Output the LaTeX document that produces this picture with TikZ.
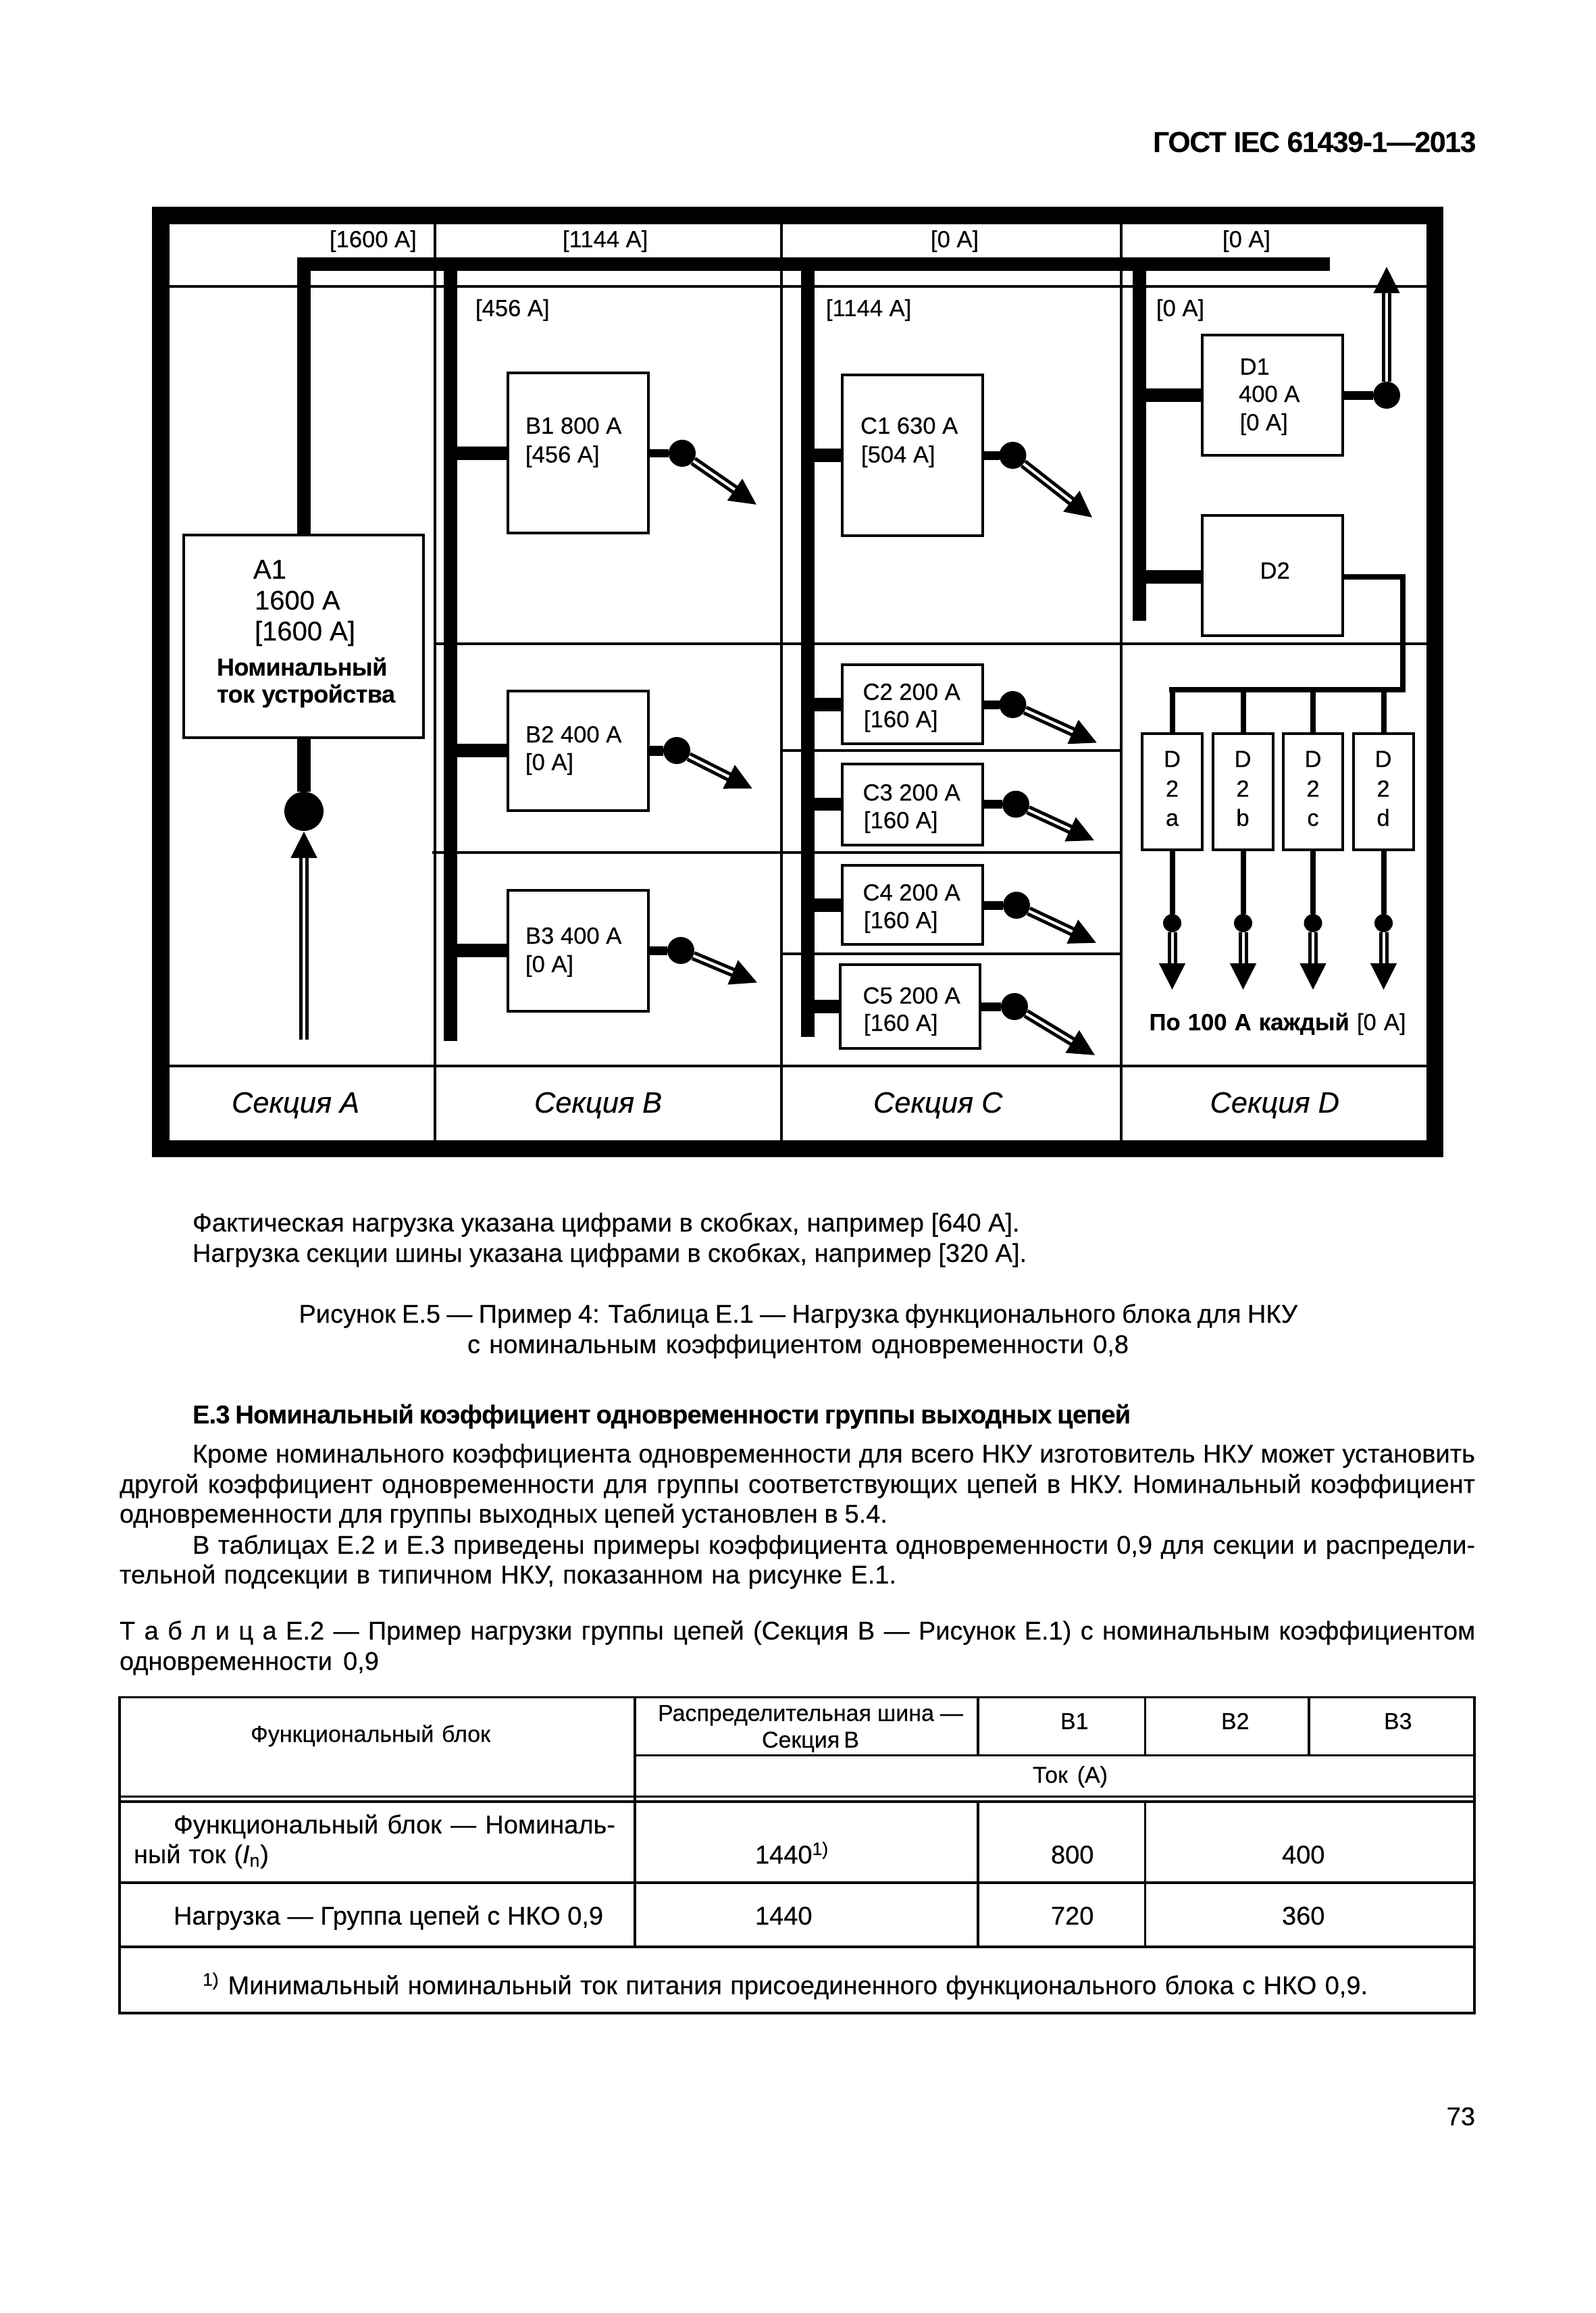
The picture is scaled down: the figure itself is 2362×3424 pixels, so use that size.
\documentclass[tikz,border=0pt]{standalone}
\usepackage{fontspec}
\setmainfont{Liberation Sans}[FakeBold=0.25,BoldFeatures={FakeBold=0.1},ItalicFeatures={FakeBold=0.25}]
\usetikzlibrary{arrows.meta,calc}
\newcount\tnum
\newcommand\pbox[5]{\pgfmathsetmacro\pbw{(#4-#2)*0.5}\pgfmathsetmacro\pbh{(#5-#3)*0.5}\pgfmathsetmacro\pbx{(#2+#4)/2}\pgfmathsetmacro\pby{(#3+#5)/2}\node[boxn,minimum width=\pbw pt,minimum height=\pbh pt] (#1) at (\pbx,\pby) {};}
% text: optional style, x, y, text
\newcommand\tx[4][]{\global\advance\tnum by 1 \node[txt,#1] (t\the\tnum) at (#2,#3) {#4};}
\newcommand\ctx[4][]{\global\advance\tnum by 1 \node[txt,anchor=base,#1] (t\the\tnum) at (#2,#3) {#4};}
% stretched line: optional style, x, y, width, text
\newcommand\jl[5][]{\global\advance\tnum by 1 \pgfmathsetmacro\jw{#4*0.5}\node[txt,#1] (t\the\tnum) at (#2,#3) {\spaceskip=.24em plus 1fil minus .12em\makebox[\jw pt][s]{#5}};}
% feeder: box, bus x, y, dot x, tip x, tip y, out width
\newcommand\feeder[7]{\coordinate (#1b) at (#2,#3);
 \draw[stub] (#1b) -- (#1.west |- #1b);
 \node[jdot] (#1c) at (#4,#3) {};
 \draw[line width=#7pt] (#1.east |- #1b) -- (#1c);
 \coordinate (#1t) at (#5,#6);
 \draw[dbl] (#1c) -- (#1t);}
\tikzset{
 txt/.style={anchor=base west,inner sep=0pt,outer sep=0pt,font=\fontsize{17.3}{20}\selectfont},
 a1f/.style={font=\fontsize{20}{24}\selectfont},
 a1b/.style={font=\fontsize{18}{22}\selectfont\bfseries\addfontfeature{LetterSpace=-1.5}},
 secf/.style={font=\fontsize{21.7}{25}\selectfont\itshape},
 body/.style={font=\fontsize{19}{23}\selectfont},
 tbl/.style={font=\fontsize{17}{20}\selectfont},
 tblb/.style={font=\fontsize{19}{23}\selectfont},
 boxn/.style={draw,line width=2pt,inner sep=0pt,outer sep=0pt,fill=white},
 grid/.style={line width=2pt},
 tline/.style={line width=1.6pt},
 bus/.style={line width=10pt},
 stub/.style={line width=9.6pt},
 thin bus/.style={line width=4.4pt},
 jdot/.style={circle,fill=black,inner sep=0pt,outer sep=0pt,minimum size=20pt},
 smalldot/.style={circle,fill=black,inner sep=0pt,outer sep=0pt,minimum size=13.5pt},
 dbl/.style={double,double distance=2pt,line width=2.5pt,-{Triangle[length=19.5pt,width=19pt]}},
}
\begin{document}
\begin{tikzpicture}[x=0.5pt,y=-0.5pt,line cap=butt]
\fill[white] (0,0) rectangle (2362,3424);
\useasboundingbox (0,0) rectangle (2362,3424);
% header
\tx[font=\fontsize{21.4}{25}\selectfont\bfseries\addfontfeature{LetterSpace=-3.2}]{1707}{225}{ГОСТ IEC 61439-1—2013}
% grid
\draw[grid] (644,332) -- (644,1688);
\draw[grid] (1157,332) -- (1157,1688);
\draw[grid] (1660,332) -- (1660,1688);
\draw[grid] (251,424.5) -- (2112,424.5);
\draw[grid] (251,1578) -- (2112,1578);
\draw[grid] (644,953) -- (2112,953);
\draw[grid] (640,1262) -- (1660,1262);
\draw[grid] (1155,1110.5) -- (1660,1110.5);
\draw[grid] (1155,1411.5) -- (1660,1411.5);
% frame
\draw[line width=12.75pt,line join=miter] (238,319) rectangle (2124.5,1700.5);
% boxes
\pbox{A1}{272}{792}{627}{1092}
\pbox{B1}{752}{552}{960}{789}
\pbox{B2}{752}{1023}{960}{1200}
\pbox{B3}{752}{1318}{960}{1497}
\pbox{C1}{1247}{555}{1455}{793}
\pbox{C2}{1247}{984}{1455}{1101}
\pbox{C3}{1247}{1131}{1455}{1251}
\pbox{C4}{1247}{1281}{1455}{1398}
\pbox{C5}{1244}{1428}{1451}{1552}
\pbox{D1}{1780}{496}{1988}{674}
\pbox{D2}{1780}{763}{1988}{941}
\pbox{D2a}{1691}{1086}{1780}{1258}
\pbox{D2b}{1796}{1086}{1885}{1258}
\pbox{D2c}{1900}{1086}{1988}{1258}
\pbox{D2d}{2004}{1086}{2093}{1258}
% main bus
\coordinate (busL) at (450,391);
\coordinate (busR) at (1969,391);
\draw[bus,line join=miter] (A1.north -| busL) -- (busL) -- (busR);
% section buses
\coordinate (busBt) at (666.5,391); \coordinate (busBb) at (666.5,1541);
\coordinate (busCt) at (1196,391); \coordinate (busCb) at (1196,1535);
\coordinate (busDt) at (1687,391); \coordinate (busDb) at (1687,919);
\draw[bus] (busBt) -- (busBb);
\draw[bus] (busCt) -- (busCb);
\draw[bus] (busDt) -- (busDb);
% A1 incoming
\node[jdot,minimum size=29pt] (Ac) at (450,1201) {};
\draw[stub] (A1.south -| Ac) -- (Ac);
\coordinate (At) at (450,1231);
\coordinate (As) at (450,1539);
\draw[dbl] (As) -- (At);
% feeders
\feeder{B1}{666.5}{671}{1010}{1120}{747}{6}
\feeder{B2}{666.5}{1111}{1002}{1114}{1167.5}{7.5}
\feeder{B3}{666.5}{1407}{1008}{1121}{1454.5}{6.5}
\feeder{C1}{1196}{674}{1499.5}{1617}{766}{6.5}
\feeder{C2}{1196}{1043}{1499.5}{1624}{1099.5}{6.5}
\feeder{C3}{1196}{1190.5}{1504}{1620}{1244}{6.5}
\feeder{C4}{1196}{1340}{1505}{1623}{1395.7}{6.5}
\feeder{C5}{1196}{1490}{1502}{1621}{1562}{6.5}
% D1
\coordinate (D1bus) at (1687,585);
\draw[stub] (D1bus) -- (D1.west |- D1bus);
\node[jdot] (D1dot) at (2053,585) {};
\draw[line width=6.5pt] (D1.east |- D1bus) -- (D1dot);
\coordinate (D1tip) at (2053,395);
\draw[dbl] (D1dot) -- (D1tip);
% D2
\coordinate (D2bus) at (1687,854);
\draw[stub] (D2bus) -- (D2.west |- D2bus);
\coordinate (D2r) at (2077,854);
\coordinate (D2k) at (2077,1021);
\coordinate (D2l) at (1731,1021);
\draw[thin bus,line join=miter] (D2.east |- D2r) -- (D2r) -- (D2k) -- (D2l);
\foreach \n in {a,b,c,d}{
 \draw[line width=4pt] (D2\n.north) -- (D2\n.north |- D2k);
 \coordinate (D2\n y) at (0,1366.5);
 \node[smalldot] (D2\n dot) at (D2\n.south |- D2\n y) {};
 \draw[line width=4pt] (D2\n.south) -- (D2\n dot);
 \coordinate (D2\n z) at (0,1465);
 \coordinate (D2\n tip) at (D2\n.south |- D2\n z);
 \draw[dbl] (D2\n dot) -- (D2\n tip);
}
% diagram labels
\tx{488}{366}{[1600 А]}
\tx{833}{366}{[1144 А]}
\tx{1378}{366}{[0 А]}
\tx{1810}{366}{[0 А]}
\tx{704}{468}{[456 А]}
\tx{1223}{468}{[1144 А]}
\tx{1712}{468}{[0 А]}
\tx[a1f]{375}{856.5}{A1}
\tx[a1f]{377}{902.4}{1600 А}
\tx[a1f]{377}{948}{[1600 А]}
\jl[a1b]{321}{1000}{251}{Номинальный}
\jl[a1b]{321}{1040}{264}{ток устройства}
\tx{778}{642}{B1 800 А}
\tx{778}{684.6}{[456 А]}
\tx{778}{1099}{B2 400 А}
\tx{778}{1140}{[0 А]}
\tx{778}{1397}{B3 400 А}
\tx{778}{1439}{[0 А]}
\tx{1274}{642}{C1 630 А}
\tx{1275}{684.6}{[504 А]}
\tx{1277.5}{1036}{C2 200 А}
\tx{1279}{1076.5}{[160 А]}
\tx{1277.5}{1185}{C3 200 А}
\tx{1279}{1226}{[160 А]}
\tx{1277.5}{1333}{C4 200 А}
\tx{1279}{1374}{[160 А]}
\tx{1277.5}{1485.6}{C5 200 А}
\tx{1279}{1526}{[160 А]}
\tx{1835.6}{554.5}{D1}
\tx{1834}{595}{400 А}
\tx{1835.6}{637}{[0 А]}
\tx{1865.5}{856.5}{D2}
\foreach \cx/\ch in {1735.5/a,1840/b,1944/c,2048/d}{
 \ctx{\cx}{1135.4}{D}
 \ctx{\cx}{1179.4}{2}
 \ctx{\cx}{1222.5}{\ch}
}
\jl{1701.6}{1525}{380}{\textbf{По 100 А каждый} [0 А]}
\tx[secf]{343}{1647}{Секция A}
\tx[secf]{791}{1647}{Секция B}
\tx[secf]{1293}{1647}{Секция C}
\tx[secf]{1791.5}{1647}{Секция D}
% body text
\jl[body]{285}{1823}{1224.5}{Фактическая нагрузка указана цифрами в скобках, например [640 А].}
\jl[body]{285}{1868}{1235}{Нагрузка секции шины указана цифрами в скобках, например [320 А].}
\jl[body]{442.5}{1958}{1478.5}{Рисунок Е.5 — Пример 4: Таблица Е.1 — Нагрузка функционального блока для НКУ}
\jl[body]{692}{2003}{979}{с номинальным коэффициентом одновременности 0,8}
\jl[font=\fontsize{19}{23}\selectfont\bfseries\addfontfeature{LetterSpace=-2}]{285}{2107}{1389}{Е.3 Номинальный коэффициент одновременности группы выходных цепей}
\jl[body]{285}{2165}{1899}{Кроме номинального коэффициента одновременности для всего НКУ изготовитель НКУ может установить}
\jl[body]{177}{2210}{2007}{другой коэффициент одновременности для группы соответствующих цепей в НКУ. Номинальный коэффициент}
\jl[body]{177}{2254}{1137}{одновременности для группы выходных цепей установлен в 5.4.}
\jl[body]{285}{2300}{1899}{В таблицах Е.2 и Е.3 приведены примеры коэффициента одновременности 0,9 для секции и распредели-}
\jl[body]{177}{2344}{1150}{тельной подсекции в типичном НКУ, показанном на рисунке Е.1.}
\jl[body]{177}{2427}{2007}{Т а б л и ц а Е.2 — Пример нагрузки группы цепей (Секция В — Рисунок Е.1) с номинальным коэффициентом}
\jl[body]{177}{2472}{384}{одновременности 0,9}
% table
\draw[tline] (177,2512.5) rectangle (2183,2980);
\draw[tline] (940,2512.5) -- (940,2882);
\draw[tline] (1448,2512.5) -- (1448,2598.5);
\draw[tline] (1695.5,2512.5) -- (1695.5,2598.5);
\draw[tline] (1938,2512.5) -- (1938,2598.5);
\draw[tline] (1448,2667) -- (1448,2882);
\draw[tline] (1695.5,2667) -- (1695.5,2882);
\draw[tline] (940,2598.5) -- (2183,2598.5);
\draw[tline] (177,2659.5) -- (2183,2659.5);
\draw[tline] (177,2667) -- (2183,2667);
\draw[tline] (177,2787) -- (2183,2787);
\draw[tline] (177,2882) -- (2183,2882);
\jl[tbl]{371}{2578.5}{355}{Функциональный блок}
\jl[tbl]{974}{2547.5}{452}{Распределительная шина —}
\jl[tbl]{1128}{2587}{144}{Секция В}
\tx[tbl]{1570}{2559.5}{B1}
\tx[tbl]{1808}{2559.5}{B2}
\tx[tbl]{2049}{2559.5}{B3}
\jl[tbl]{1529}{2639}{111}{Ток (А)}
\jl[tblb]{257}{2714}{654}{Функциональный блок — Номиналь-}
\jl[tblb]{198}{2758}{200}{ный ток (\textit{I}\textsubscript{n})}
\tx[tblb]{1118}{2758.5}{1440\textsuperscript{1)}}
\tx[tblb]{1556}{2758.5}{800}
\tx[tblb]{1898}{2758.5}{400}
\jl[tblb]{257}{2849}{636}{Нагрузка — Группа цепей с НКО 0,9}
\tx[tblb]{1118}{2849}{1440}
\tx[tblb]{1556}{2849}{720}
\tx[tblb]{1898}{2849}{360}
\tx[tblb]{300}{2952}{\textsuperscript{1)}}
\jl[tblb]{337.5}{2952}{1687.5}{Минимальный номинальный ток питания присоединенного функционального блока с НКО 0,9.}
\tx[body,anchor=base east]{2184}{3146}{73}
\end{tikzpicture}
\end{document}
